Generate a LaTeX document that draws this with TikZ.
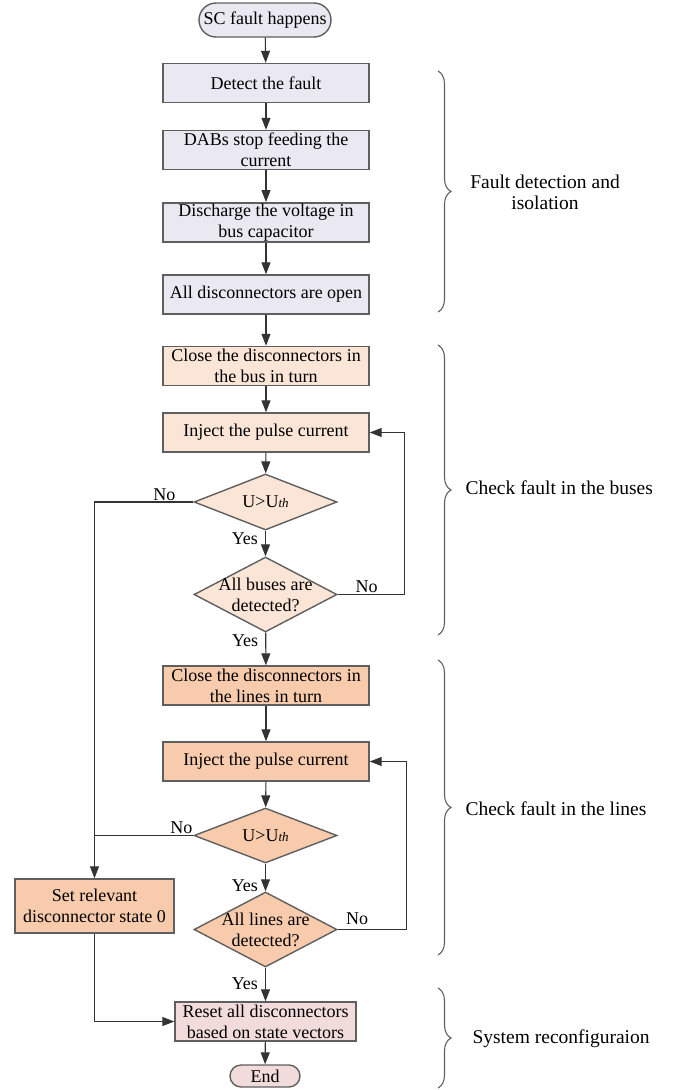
\documentclass[tikz,border=0pt]{standalone}
\usepackage{fontspec}
\setmainfont{Liberation Serif}
\usetikzlibrary{arrows.meta,shapes.geometric,decorations.pathreplacing}

\definecolor{isogray}{HTML}{EAE8F0}
\definecolor{buspeach}{HTML}{FBE5D6}
\definecolor{linepeach}{HTML}{F8CBAD}
\definecolor{endpink}{HTML}{F2DCDB}
\definecolor{bordergray}{HTML}{5F5F5F}

\begin{document}
\begin{tikzpicture}[x=1pt, y=-1pt, >={Triangle[length=12pt,width=9pt]}, line width=1.1pt, draw=black!80,
        main/.style={draw=bordergray, line width=1.4pt, minimum width=206pt, minimum height=39pt, inner sep=1pt, align=center, font=\fontsize{18}{21}\selectfont},
        term/.style={main, rounded corners=11pt, minimum width=70pt, minimum height=22pt, inner sep=0pt},
        dia/.style={diamond, draw=bordergray, line width=1.4pt, minimum width=143pt, inner sep=0pt},
        lbl/.style={inner sep=1pt, font=\fontsize{18}{21}\selectfont},
        side/.style={inner sep=0pt, align=center, font=\fontsize{19.5}{21}\selectfont},
        brc/.style={draw=bordergray, line width=1.1pt, decorate, decoration={brace, amplitude=13pt}},
        every label/.style={inner sep=0pt, align=center, font=\fontsize{18}{21}\selectfont}]

        \useasboundingbox (0,0) rectangle (679,1090);

        % fault detection and isolation
        \node[term, fill=isogray, minimum width=132pt, minimum height=34pt, rounded corners=17pt] (start) at (265,20) {SC fault happens};
        \node[main, fill=isogray] (det) at (266,83) {Detect the fault};
        \node[main, fill=isogray] (dab) at (266,150) {DABs stop feeding the\\current};
        \node[main, fill=isogray] (dis) at (266,222.5) {Discharge the voltage in\\bus capacitor};
        \node[main, fill=isogray] (open) at (266,294.5) {All disconnectors are open};

        % buses
        \node[main, fill=buspeach] (cb) at (266,366) {Close the disconnectors in\\the bus in turn};
        \node[main, fill=buspeach] (ib) at (266,432.5) {Inject the pulse current};
        \node[dia, fill=buspeach, minimum height=56pt, label=center:{U\textgreater U{\fontsize{13}{13}\selectfont\itshape th}}] (d1) at (265.5,502) {};
        \node[dia, fill=buspeach, minimum height=75pt, label=center:{All buses are\\detected?}] (d2) at (265.5,594.5) {};

        % lines
        \node[main, fill=linepeach] (cl) at (266,685.5) {Close the disconnectors in\\the lines in turn};
        \node[main, fill=linepeach] (il) at (266,761.5) {Inject the pulse current};
        \node[dia, fill=linepeach, minimum height=55pt, label=center:{U\textgreater U{\fontsize{13}{13}\selectfont\itshape th}}] (d3) at (265.5,835.5) {};
        \node[dia, fill=linepeach, minimum height=75pt, label=center:{All lines are\\detected?}] (d4) at (265.5,929.5) {};
        \node[main, fill=linepeach, minimum width=159pt, minimum height=54pt] (set) at (94.5,906) {Set relevant\\disconnector state 0};

        % reconfiguration
        \node[main, fill=endpink, minimum width=181pt] (reset) at (265.5,1021.5) {Reset all disconnectors\\based on state vectors};
        \node[term, fill=endpink] (stop) at (265,1076) {End};

        \path[->]
            (start) edge (det)
            (det) edge (dab)
            (dab) edge (dis)
            (dis) edge (open)
            (open) edge (cb)
            (cb) edge (ib)
            (ib) edge (d1)
            (d1) edge node[lbl, left, pos=0.33, xshift=-6pt] (y1) {Yes} (d2)
            (d2) edge node[lbl, left, pos=0.24, xshift=-6pt] (y2) {Yes} (cl)
            (cl) edge (il)
            (il) edge (d3)
            (d3) edge node[lbl, left, pos=0.8, xshift=-6pt] (y3) {Yes} (d4)
            (d4) edge node[lbl, left, pos=0.49, xshift=-6pt] (y4) {Yes} (reset)
            (reset) edge (stop)
            ;

        \draw[->] (d2.east) -- node[lbl, above, pos=0.43] (n2) {No} ++(67,0) |- (ib.east);
        \draw[->] (d4.east) -- node[lbl, above, pos=0.28, yshift=3pt] (n4) {No} ++(69,0) |- (il.east);
        \draw[->] (d1.west) -| node[lbl, above, pos=0.146] (n1) {No} (set.north);
        \draw (d3.west) -- node[lbl, above, pos=0.12] (n3) {No} (d3.west -| set.north);
        \draw[->] (set.south) |- (reset.west);

        % braces and stage names
        \draw[brc] (438,71) -- (438,312);
        \draw[brc] (438,345) -- (438,635);
        \draw[brc] (438,660) -- (438,955);
        \draw[brc] (438,988) -- (438,1088);
        \node[side] (s1) at (545,192) {Fault detection and\\isolation};
        \node[side, anchor=west] (s2) at (465,488) {Check fault in the buses};
        \node[side, anchor=west] (s3) at (465,809) {Check fault in the lines};
        \node[side, anchor=west] (s4) at (472,1039) {System reconfiguraion};
\end{tikzpicture}
\end{document}
